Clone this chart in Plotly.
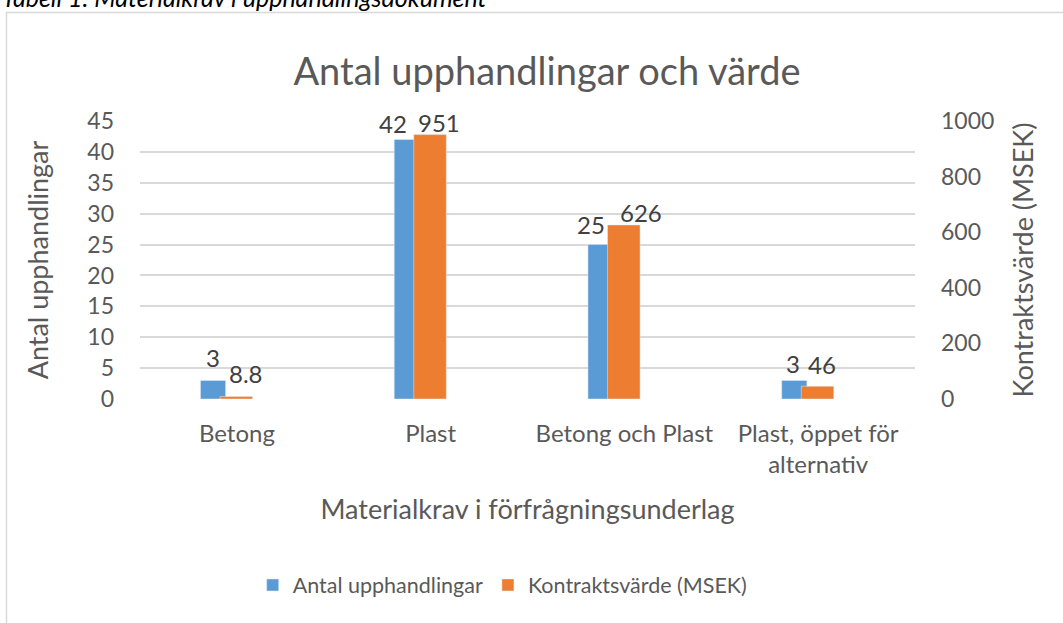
import plotly.graph_objects as go

categories = ["Betong", "Plast", "Betong och Plast", "Plast, öppet för<br>alternativ"]
antal = [3, 42, 25, 3]
varde = [8.8, 951, 626, 46]
series_names = ["Antal upphandlingar", "Kontraktsvärde (MSEK)"]
left_ticks = list(range(0, 46, 5))
right_ticks = list(range(0, 1001, 200))

BLUE = "#5B9BD5"
ORANGE = "#ED7D31"
TXT = "#595959"
GRID = "#D9D9D9"
FONT = "Lato"

W, H = 1063, 623
L, R, T, B = 140, 148, 121, 224
PW, PH = W - L - R, H - T - B

xs = list(range(len(categories)))
blue_off, blue_w = -0.188, 0.13
or_off, or_w = -0.087, 0.168

fig = go.Figure()
fig.add_trace(go.Bar(x=xs, y=antal, name=series_names[0], marker_color=BLUE,
                     offset=blue_off, width=blue_w, yaxis="y", hoverinfo="skip"))
fig.add_trace(go.Bar(x=xs, y=varde, name=series_names[1], marker_color=ORANGE,
                     offset=or_off, width=or_w, yaxis="y2", hoverinfo="skip"))

# label nudges (pixels) relative to bar top-center
blue_shift = [(0, -23), (-14, -16.5), (-10, -20), (-1, -16.5)]
or_shift = [(10, -23.5), (8.5, -12), (17, -12), (4, -22)]

LBL = dict(family=FONT, size=24, color="#404040")
ann = []
for i, v in enumerate(antal):
    dx, dy = blue_shift[i]
    ann.append(dict(x=i + blue_off + blue_w / 2, y=v, xref="x", yref="y", text=f"{v:g}",
                    showarrow=False, xshift=dx, yshift=-dy, yanchor="middle", font=LBL))
for i, v in enumerate(varde):
    dx, dy = or_shift[i]
    ann.append(dict(x=i + or_off + or_w / 2, y=v, xref="x", yref="y2", text=f"{v:g}",
                    showarrow=False, xshift=dx, yshift=-dy, yanchor="middle", font=LBL))

# caption (partially cut off at top, as in the source page)
ann.append(dict(x=(0 - L) / PW, y=(PH + T + 3) / PH, xref="paper", yref="paper",
                text="<i>Tabell 1. Materialkrav i upphandlingsdokument</i>", showarrow=False,
                xanchor="left", yanchor="middle", font=dict(family=FONT, size=25, color="#000000")))

fig.update_layout(
    width=W, height=H,
    margin=dict(l=L, r=R, t=T, b=B, autoexpand=False),
    paper_bgcolor="white", plot_bgcolor="white",
    barmode="overlay",
    font=dict(family=FONT, color=TXT),
    title=dict(text="Antal upphandlingar och värde", x=547 / W, xref="container", xanchor="center",
               y=1 - 72 / H, yref="container", yanchor="middle",
               font=dict(family=FONT, size=38, color=TXT)),
    xaxis=dict(range=[-0.5, 3.5], tickvals=xs, ticktext=categories, showgrid=False,
               zeroline=False, showline=False, ticks="", ticklabelstandoff=18,
               tickfont=dict(size=24, color=TXT),
               title=dict(text="Materialkrav i förfrågningsunderlag", font=dict(size=27, color=TXT), standoff=22)),
    yaxis=dict(range=[0, 45], tickvals=left_ticks, showgrid=True, gridcolor=GRID, gridwidth=1.5,
               zeroline=False, showline=False, ticks="", ticklabelstandoff=25,
               tickfont=dict(size=23, color=TXT),
               title=dict(text="Antal upphandlingar", font=dict(size=27, color=TXT), standoff=30)),
    yaxis2=dict(range=[0, 1000], tickvals=right_ticks, overlaying="y", side="right", showgrid=False,
                zeroline=False, showline=False, ticks="", ticklabelstandoff=25,
                tickfont=dict(size=23, color=TXT),
                title=dict(text="Kontraktsvärde (MSEK)", font=dict(size=27, color=TXT), standoff=20)),
    legend=dict(orientation="h", x=0.468, xanchor="center", y=(399 - 585) / PH, yanchor="middle",
                font=dict(size=21.5, color=TXT), itemwidth=30, tracegroupgap=0),
    annotations=ann,
    shapes=[
        dict(type="line", xref="paper", yref="paper", x0=(6.5 - L) / PW, x1=(6.5 - L) / PW,
             y0=(PH + T - 12) / PH, y1=-(B + 5) / PH, line=dict(color=GRID, width=1.5)),
        dict(type="line", xref="paper", yref="paper", x0=(6 - L) / PW, x1=(W + 5 - L) / PW,
             y0=(PH + T - 12.5) / PH, y1=(PH + T - 12.5) / PH, line=dict(color=GRID, width=1.5)),
    ],
)

fig.write_html("out.html", config={"displayModeBar": False},
               post_script="document.body.style.margin='0';")
